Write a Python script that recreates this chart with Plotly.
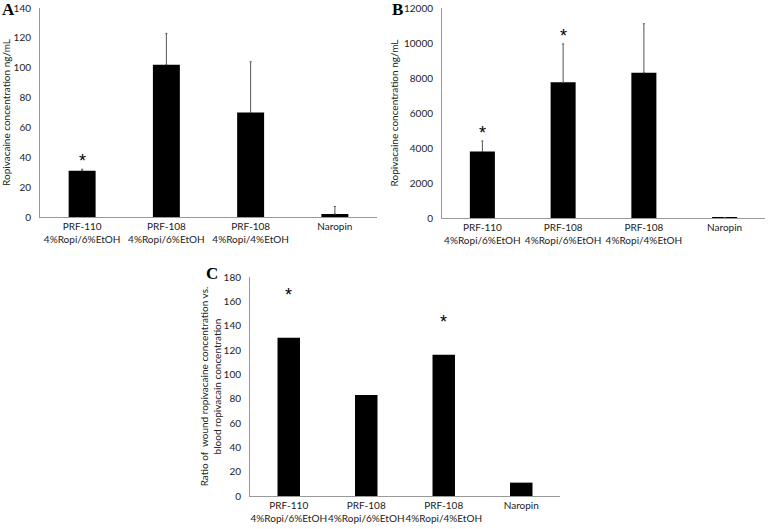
import plotly.graph_objects as go

categories = ["PRF-110<br>4%Ropi/6%EtOH", "PRF-108<br>4%Ropi/6%EtOH",
              "PRF-108<br>4%Ropi/4%EtOH", "Naropin"]

wound_vals = [31, 102, 70, 2]
wound_err = [1, 21, 34, 5]
wound_stars = [True, False, False, False]

blood_vals = [3800, 7750, 8300, 20]
blood_err = [600, 2200, 2800, 0]
blood_stars = [True, True, False, False]

ratio_vals = [130, 83, 116, 11]
ratio_star_y = [165, None, 143, None]

W, H = 770, 529
FONT = "Lato"
XTICKFONT = dict(family=FONT, size=10, color="#222")
YTICKFONT = dict(family=FONT, size=10, color="#222")

def px(x):
    return x / W

def py(y):
    return 1 - y / H

fig = go.Figure()

fig.add_trace(go.Bar(x=categories, y=wound_vals, width=0.32,
                     marker=dict(color="black", line=dict(width=0)),
                     error_y=dict(type="data", array=wound_err, arrayminus=[0]*4,
                                  symmetric=False, color="#555", thickness=1, width=1),
                     xaxis="x", yaxis="y", showlegend=False))
fig.add_trace(go.Bar(x=categories, y=blood_vals, width=0.31,
                     marker=dict(color="black", line=dict(width=0)),
                     error_y=dict(type="data", array=blood_err, arrayminus=[0]*4,
                                  symmetric=False, color="#555", thickness=1, width=1),
                     xaxis="x2", yaxis="y2", showlegend=False))
fig.add_trace(go.Bar(x=categories, y=ratio_vals, width=0.29,
                     marker=dict(color="black", line=dict(width=0)),
                     xaxis="x3", yaxis="y3", showlegend=False))

def xa(domain, anchor):
    return dict(domain=domain, anchor=anchor, type="category", showgrid=False,
                showline=True, linecolor="#999", linewidth=1, ticks="", tickangle=0,
                tickfont=XTICKFONT, zeroline=False, fixedrange=True, automargin=False)

def ya(domain, anchor, rng, dtick, title, standoff):
    return dict(domain=domain, anchor=anchor, range=rng, dtick=dtick, showgrid=False,
                showline=True, linecolor="#999", linewidth=1, ticks="",
                tickformat="d", automargin=False, fixedrange=True,
                tickfont=YTICKFONT, zeroline=False, ticklabelstandoff=6,
                title=dict(text=title, font=dict(family=FONT, size=10, color="#222"),
                           standoff=standoff))

fig.update_layout(
    width=W, height=H, margin=dict(l=0, r=0, t=0, b=0, autoexpand=False),
    paper_bgcolor="white", plot_bgcolor="white",
    xaxis=xa([px(40), px(377)], "y"),
    yaxis=ya([py(217), py(8)], "x", [0, 140], 20, "Ropivacaine concentration ng/mL", 3),
    xaxis2=xa([px(442), px(765)], "y2"),
    yaxis2=ya([py(218), py(8)], "x2", [0, 12000], 2000, "Ropivacaine concentration ng/mL", 3),
    xaxis3=xa([px(250), px(560)], "y3"),
    yaxis3=ya([py(496), py(277)], "x3", [0, 180], 20,
              "Ratio of  wound ropivacaine concentration vs.<br>blood ropivacain concentration", 0),
)

ann = []
STAR = dict(family="Liberation Sans", size=18, color="black")
for i, s in enumerate(wound_stars):
    if s:
        ann.append(dict(x=categories[i], y=wound_vals[i] + wound_err[i], xref="x", yref="y",
                        text="*", showarrow=False, yanchor="bottom", yshift=-4, font=STAR))
for i, s in enumerate(blood_stars):
    if s:
        ann.append(dict(x=categories[i], y=blood_vals[i] + blood_err[i], xref="x2", yref="y2",
                        text="*", showarrow=False, yanchor="bottom", yshift=-4, font=STAR))
for i, v in enumerate(ratio_star_y):
    if v is not None:
        ann.append(dict(x=categories[i], y=v, xref="x3", yref="y3",
                        text="*", showarrow=False, yanchor="middle", font=STAR))

for letter, x, y in [("A", 8, 10), ("B", 397, 10), ("C", 212, 273)]:
    ann.append(dict(x=px(x), y=py(y), xref="paper", yref="paper", text="<b>%s</b>" % letter,
                    showarrow=False, xanchor="center", yanchor="middle",
                    font=dict(family="Liberation Serif", size=17, color="black")))

fig.update_layout(annotations=ann)
fig.write_html("out.html", config={"displayModeBar": False},
               post_script="document.body.style.margin='0';document.body.style.overflow='hidden';")
